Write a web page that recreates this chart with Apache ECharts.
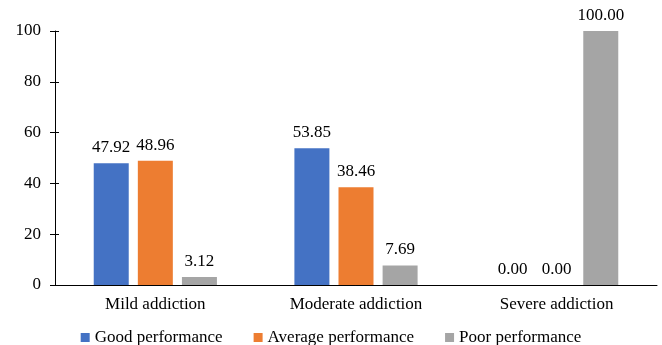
<!DOCTYPE html>
<html><head><meta charset="utf-8">
<script src="https://cdn.jsdelivr.net/npm/echarts@6/dist/echarts.min.js"></script>
<style>html,body{margin:0;padding:0;background:#fff}#c{width:662px;height:345px}</style>
</head><body><div id="c"></div>
<script>
const categories = ["Mild addiction", "Moderate addiction", "Severe addiction"];
const seriesNames = ["Good performance", "Average performance", "Poor performance"];
const goodValues = [47.92, 53.85, 0.00];
const averageValues = [48.96, 38.46, 0.00];
const poorValues = [3.12, 7.69, 100.00];
const yTicks = [0, 20, 40, 60, 80, 100];
const colors = ["#4472C4", "#ED7D31", "#A5A5A5"];

const chart = echarts.init(document.getElementById('c'));
const dataSets = [goodValues, averageValues, poorValues];
chart.setOption({
  animation: false,
  grid: {left: 55, right: 5, top: 31, bottom: 60, containLabel: false},
  legend: {
    top: 324, left: 'center',
    itemWidth: 9, itemHeight: 9, itemGap: 31,
    icon: 'rect',
    textStyle: {fontFamily: 'Times New Roman', fontSize: 17, color: '#000'},
    data: seriesNames
  },
  xAxis: {
    type: 'category', data: categories,
    axisLine: {lineStyle: {color: '#000', width: 1}},
    axisTick: {show: false},
    axisLabel: {fontFamily: 'Times New Roman', fontSize: 17, color: '#000', margin: 11}
  },
  yAxis: [
    {
      type: 'value', min: yTicks[0], max: yTicks[yTicks.length - 1], interval: 20,
      splitLine: {show: false},
      axisLine: {show: true, lineStyle: {color: '#000', width: 1}},
      axisTick: {show: true, length: 5, lineStyle: {color: '#000'}},
      axisLabel: {fontFamily: 'Times New Roman', fontSize: 17, color: '#000', margin: 14}
    },
    {
      type: 'value', min: yTicks[0], max: yTicks[yTicks.length - 1], interval: 20,
      position: 'left',
      splitLine: {show: false},
      axisLine: {show: false},
      axisTick: {show: true, inside: true, length: 4, lineStyle: {color: '#000'}},
      axisLabel: {show: false}
    }
  ],
  series: dataSets.map((d, i) => ({
    name: seriesNames[i], type: 'bar', data: d,
    barWidth: 35, barGap: '26%',
    itemStyle: {color: colors[i]},
    label: {show: true, position: 'top', distance: 7,
      fontFamily: 'Times New Roman', fontSize: 17, color: '#000',
      formatter: p => p.value.toFixed(2)}
  }))
});

// Make sure every drawn text uses the serif family.
function forceSerif() {
  const zr = chart.getZr();
  const list = zr.storage.getDisplayList(true);
  let changed = false;
  list.forEach(el => {
    const st = el.style;
    if (st && typeof st.font === 'string' && st.font.indexOf('Times New Roman') < 0) {
      const m = st.font.match(/(\d+(?:\.\d+)?px)/);
      const size = m ? m[1] : '17px';
      st.font = size + " 'Times New Roman', 'Liberation Serif', serif";
      el.markRedraw && el.markRedraw();
      changed = true;
    }
  });
  if (changed) zr.refreshImmediately();
}
forceSerif();
chart.on('finished', forceSerif);
</script></body></html>
